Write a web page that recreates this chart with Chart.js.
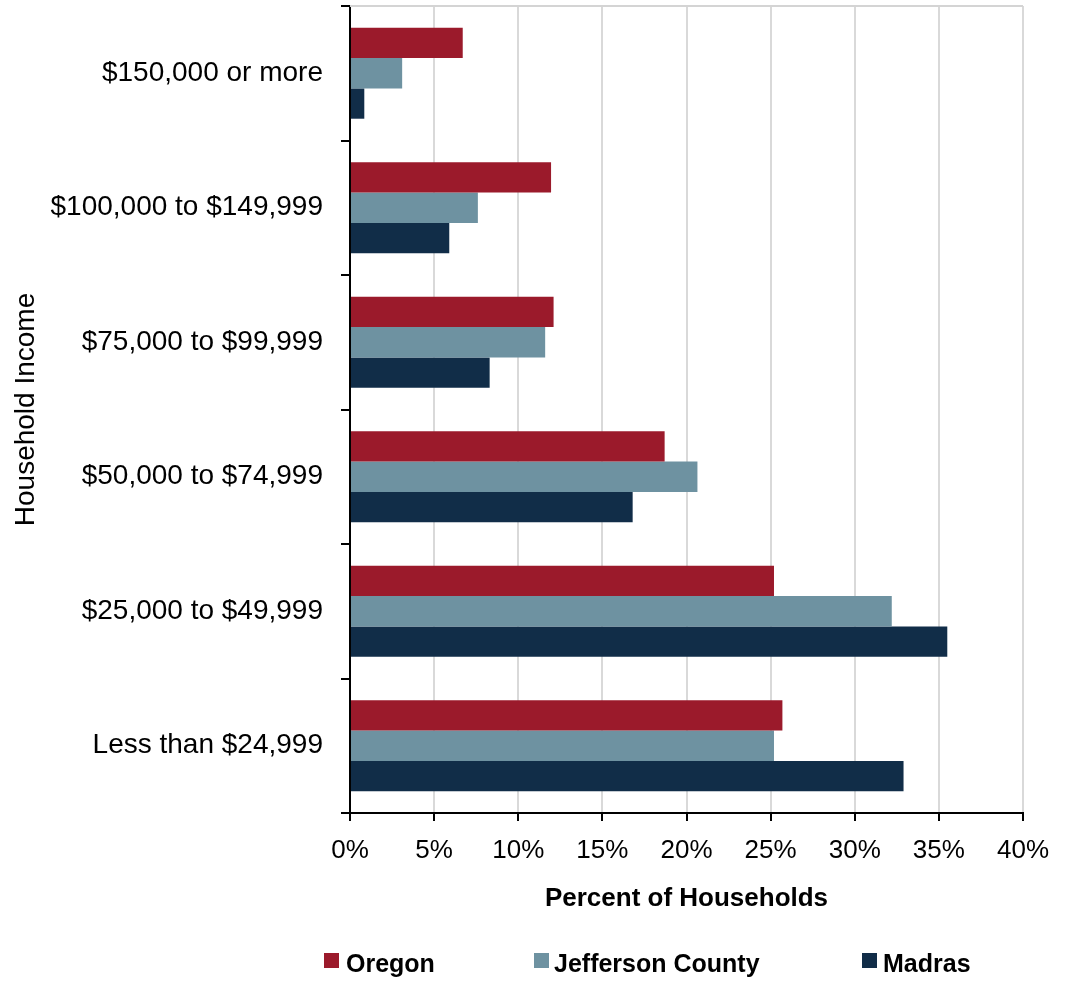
<!DOCTYPE html>
<html>
<head>
<meta charset="utf-8">
<title>Household Income</title>
<script src="https://cdn.jsdelivr.net/npm/chart.js@4.4.1/dist/chart.umd.min.js"></script>
<style>
  html, body { margin: 0; padding: 0; background: #fff; }
  #wrap { position: relative; width: 1068px; height: 981px; overflow: hidden; }
  #c { position: absolute; left: 0; top: 0; }
  .swatch { position: absolute; width: 15px; height: 15px; }
  .key { position: absolute; font: bold 25px "Liberation Sans", Arial, sans-serif; line-height: 25px; color: #000; white-space: nowrap; }
</style>
</head>
<body>
<div id="wrap">
  <canvas id="c" width="1068" height="981"></canvas>
  <div id="legend"></div>
</div>
<script>
// Income brackets, top to bottom
const incomeBrackets = [
  '$150,000 or more',
  '$100,000 to $149,999',
  '$75,000 to $99,999',
  '$50,000 to $74,999',
  '$25,000 to $49,999',
  'Less than $24,999'
];

// Share of households (%) in each bracket
const oregon          = [6.7, 11.95, 12.1, 18.7, 25.2, 25.7];
const jeffersonCounty = [3.1, 7.6, 11.6, 20.65, 32.2, 25.2];
const madras          = [0.85, 5.9, 8.3, 16.8, 35.5, 32.9];

const seriesNames  = ['Oregon', 'Jefferson County', 'Madras'];
const seriesColors = ['#9B1A2B', '#6E92A1', '#112D48'];

// Horizontal axis: 0% to 40% in steps of 5
const percentTicks = [0, 5, 10, 15, 20, 25, 30, 35, 40];

const baseFont = '"Liberation Sans", Arial, sans-serif';

// Thin grey rule along the top of the plot area
const topEdge = {
  id: 'topEdge',
  beforeDatasetsDraw(chart) {
    const { ctx, chartArea: a } = chart;
    ctx.save();
    ctx.strokeStyle = '#d4d4d4';
    ctx.lineWidth = 2;
    ctx.beginPath();
    ctx.moveTo(a.left, a.top);
    ctx.lineTo(a.right, a.top);
    ctx.stroke();
    ctx.restore();
  }
};

const seriesValues = [oregon, jeffersonCounty, madras];

new Chart(document.getElementById('c'), {
  type: 'bar',
  data: {
    labels: incomeBrackets,
    datasets: seriesNames.map((name, i) => ({
      label: name,
      data: seriesValues[i],
      backgroundColor: seriesColors[i],
      borderWidth: 0,
      barPercentage: 1,
      categoryPercentage: 0.676
    }))
  },
  options: {
    indexAxis: 'y',
    responsive: false,
    animation: false,
    devicePixelRatio: 1,
    layout: { padding: { left: 0, top: 6, right: 45, bottom: 60 } },
    plugins: {
      legend: { display: false },
      tooltip: { enabled: false }
    },
    scales: {
      x: {
        min: percentTicks[0],
        max: percentTicks[percentTicks.length - 1],
        afterBuildTicks(scale) {
          scale.ticks = percentTicks.map(v => ({ value: v }));
        },
        afterFit(scale) {
          scale.height = 108;
          scale.paddingLeft = 0;
          scale.paddingRight = 0;
        },
        ticks: {
          callback: v => v + '%',
          color: '#000',
          font: { family: baseFont, size: 26 },
          padding: 14,
          maxRotation: 0
        },
        grid: {
          color: ctx => (ctx.index === 0 ? 'rgba(0,0,0,0)' : '#d9d9d9'),
          lineWidth: 2,
          tickColor: '#000',
          tickLength: 8,
          drawTicks: true
        },
        border: { display: true, color: '#000', width: 2 },
        title: {
          display: true,
          text: 'Percent of Households',
          color: '#000',
          font: { family: baseFont, size: 26, weight: 'bold' },
          padding: { top: 0, bottom: 7 }
        }
      },
      y: {
        afterFit(scale) {
          scale.width = 350;
          scale.paddingTop = 0;
          scale.paddingBottom = 0;
        },
        ticks: {
          color: '#000',
          font: { family: baseFont, size: 28 },
          padding: 18
        },
        grid: {
          drawOnChartArea: false,
          drawTicks: true,
          tickLength: 9,
          color: '#000',
          tickColor: '#000',
          lineWidth: 2
        },
        border: { display: true, color: '#000', width: 2 },
        title: {
          display: true,
          text: 'Household Income',
          color: '#000',
          font: { family: baseFont, size: 28 },
          padding: { top: 9, bottom: 0 }
        }
      }
    }
  },
  plugins: [topEdge]
});

// Legend row under the axis title
const legendSpots = [
  { box: 324, text: 346 },
  { box: 534, text: 554 },
  { box: 862, text: 883 }
];
const legendEl = document.getElementById('legend');
seriesNames.forEach((name, i) => {
  const sw = document.createElement('div');
  sw.className = 'swatch';
  sw.style.left = legendSpots[i].box + 'px';
  sw.style.top = '953px';
  sw.style.background = seriesColors[i];
  legendEl.appendChild(sw);
  const t = document.createElement('div');
  t.className = 'key';
  t.style.left = legendSpots[i].text + 'px';
  t.style.top = '951px';
  t.textContent = name;
  legendEl.appendChild(t);
});
</script>
</body>
</html>
